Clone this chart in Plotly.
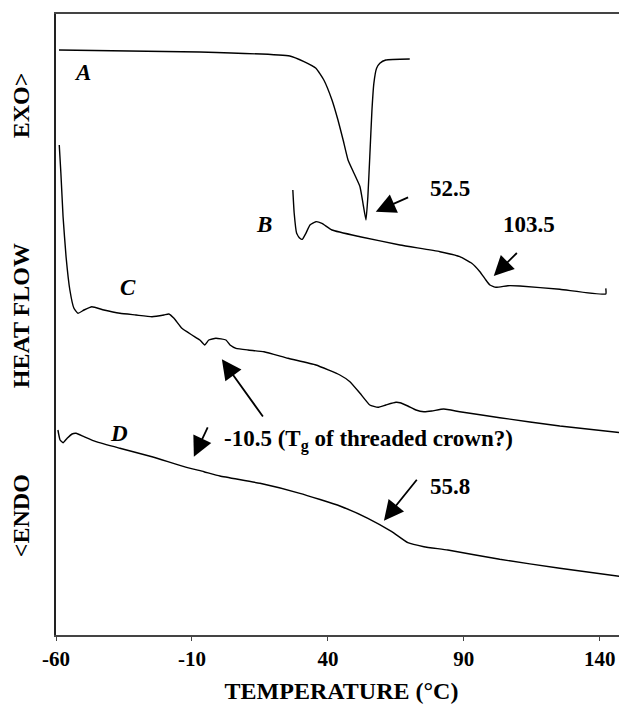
import plotly.graph_objects as go

# Temperature (°C) and heat flow (arbitrary units, exo up)
a_T = [-58.9, -7.1, 26.0, 31.2, 35.6, 38.5, 41.5, 43.7, 45.6, 47.4, 49.6, 51.8, 52.9, 54.0, 54.7, 55.4, 56.2, 56.9, 57.9, 59.1, 61.3, 70.1]
a_hf = [592, 590, 586, 580.3, 573.7, 562, 542, 522, 502, 482, 468.7, 455.3, 438.7, 422, 445.3, 485.3, 532, 558.7, 573.7, 578.7, 582, 583]

b_T = [27.1, 27.6, 28.5, 29.7, 30.6, 31.9, 33.4, 35.6, 37.8, 41.5, 51.8, 66.5, 81.2, 88.5, 92.9, 95.9, 98.1, 99.6, 101.8, 106.2, 110.6, 125.3, 142.2, 142.2]
b_hf = [452, 428.7, 408.7, 403.7, 402.7, 408.7, 417, 420.3, 418.7, 412, 405.3, 397, 390.3, 385.3, 378.7, 370.3, 362, 357, 354.7, 356.3, 356, 352.7, 348, 353.7]

c_T = [-58.8, -58.2, -57.4, -56.3, -54.9, -53.4, -51.9, -49.7, -46.8, -42.4, -36.5, -30.6, -24.7, -20.3, -18.5, -16.6,
       -13.7, -10.0, -7.1, -5.3, -3.8, -1.2, 2.5, 4.0, 6.2, 10.6, 16.5, 25.3, 35.6, 44.4, 48.1, 51.8, 55.4, 58.4, 61.3,
       65.0, 66.5, 69.4, 72.4, 75.3, 78.2, 82.6, 88.5, 103.2, 125.3, 150.0]
c_hf = [497, 468.7, 425.3, 385.3, 352, 333.7, 328.7, 332, 335.3, 332, 328.7, 327, 325.3, 327, 328, 323.7,
        313.7, 307, 302, 297, 302, 303.7, 302, 297, 293.7, 292, 290.3, 283.7, 277, 267, 260.3, 248.7, 237, 234.7, 237,
        239.7, 239.3, 236, 232, 230.3, 231, 233, 230.3, 224.3, 216, 208.7]

d_T = [-59.3, -58.5, -57.4, -55.9, -54.1, -52.6, -49.7, -45.3, -36.5, -24.7, -12.9, -5.6, 0.3, 15.0, 29.7, 44.4,
       54.7, 63.5, 69.4, 75.3, 84.1, 103.2, 125.3, 148.1]
d_hf = [212, 202, 199.3, 203.7, 208, 208.7, 205.3, 200.3, 193.7, 185.3, 175.3, 170.3, 166, 158.7, 148.7, 136,
        123.7, 110.3, 99.3, 95.3, 92, 82.7, 73.7, 65.3]

x_ticks = [-60, -10, 40, 90, 140]

curve_names = ["A", "B", "C", "D"]
curve_label_T = [-50.4, 16.5, -33.5, -36.8]
curve_label_hf = [570, 418, 355, 208.7]

FONT = "Liberation Serif"

fig = go.Figure()
for T, hf, name in [(a_T, a_hf, "A"), (b_T, b_hf, "B"), (c_T, c_hf, "C"), (d_T, d_hf, "D")]:
    fig.add_trace(go.Scatter(x=T, y=hf, mode="lines", name=name,
                             line=dict(color="black", width=1.4, shape="spline", smoothing=0.4),
                             showlegend=False, hoverinfo="skip", cliponaxis=False))

annotations = []
for name, tx, ty in zip(curve_names, curve_label_T, curve_label_hf):
    annotations.append(dict(x=tx, y=ty, xref="x", yref="y", text=f"<b><i>{name}</i></b>",
                            showarrow=False, font=dict(family=FONT, size=23, color="black")))

# value labels
labels = [
    (84.9, 453.7, "52.5", "center"),
    (113.8, 418, "103.5", "center"),
    (84.9, 155.3, "55.8", "center"),
    (1.0, 202, "-10.5 (T<sub>g</sub> of threaded crown?)", "left"),
]
for tx, ty, txt, anc in labels:
    annotations.append(dict(x=tx, y=ty, xref="x", yref="y", text=f"<b>{txt}</b>", xanchor=anc,
                            showarrow=False, font=dict(family=FONT, size=23, color="black")))

# arrows: (head_T, head_hf, tail_T, tail_hf)
arrows = [
    (57.6, 430.3, 70.6, 446),
    (101.0, 366, 110.6, 392),
    (1.0, 282.7, 17.2, 221.3),
    (-9.3, 185.3, -3.1, 221),
    (60.6, 121.3, 73.8, 166),
]
for hx, hy, tx, ty in arrows:
    annotations.append(dict(x=hx, y=hy, ax=tx, ay=ty, xref="x", yref="y", axref="x", ayref="y",
                            text=" ", showarrow=True, arrowhead=2, arrowsize=2.2, arrowwidth=1.8,
                            arrowcolor="black"))

# y-axis title pieces
for yp, txt in [(0.853, "EXO>"), (0.515, "HEAT FLOW"), (0.193, "<ENDO")]:
    annotations.append(dict(x=-0.0613, y=yp, xref="paper", yref="paper", xanchor="center", yanchor="middle",
                            text=f"<b>{txt.replace('<', '&lt;').replace('>', '&gt;')}</b>",
                            textangle=-90, showarrow=False, font=dict(family=FONT, size=24, color="black")))

# page has an 8px default body margin, so the figure is 8px smaller than the window
fig.update_layout(
    width=619, height=696,
    margin=dict(l=48, r=0, t=6, b=69, autoexpand=False),
    paper_bgcolor="white", plot_bgcolor="white",
    annotations=annotations,
    xaxis=dict(range=[-60, 150], tickvals=x_ticks, ticktext=[f"<b>{v}</b>" for v in x_ticks],
               showline=True, linecolor="#444", linewidth=1.5, mirror=True, automargin=False,
               ticks="outside", ticklen=4, tickcolor="#444", showgrid=False, zeroline=False,
               tickfont=dict(family=FONT, size=21, color="black"),
               title=dict(text="<b>TEMPERATURE (°C)</b>", font=dict(family=FONT, size=24, color="black"), standoff=12)),
    yaxis=dict(range=[7, 628], showline=True, linecolor="#222", linewidth=1.5, automargin=False,
               showticklabels=False, ticks="", showgrid=False, zeroline=False),
)

fig.write_html("out.html")
